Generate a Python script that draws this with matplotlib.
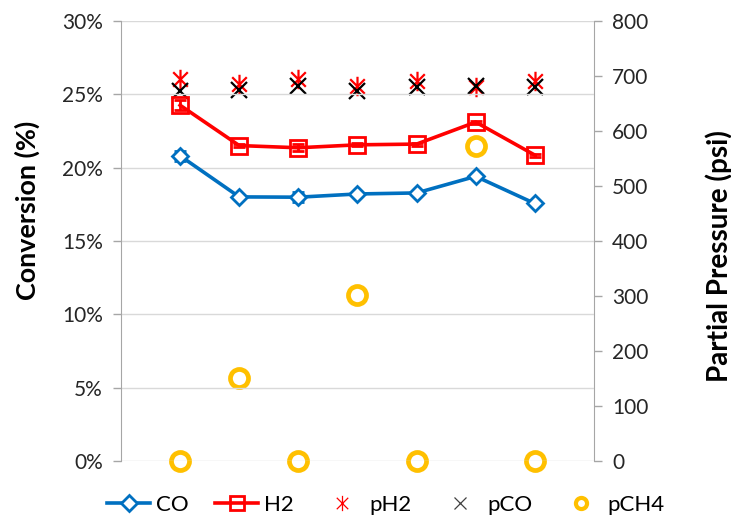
import numpy as np
import matplotlib
matplotlib.use("Agg")
import matplotlib.pyplot as plt
from matplotlib.path import Path
from matplotlib.lines import Line2D

plt.rcParams['font.family'] = ['Lato', 'DejaVu Sans']

runs = [1, 2, 3, 4, 5, 6, 7]
co_conv = [20.8, 18.0, 17.98, 18.2, 18.27, 19.4, 17.55]
co_err = [0.35, 0.1, 0.35, 0.1, 0.1, 0.1, 0.1]
h2_conv = [24.25, 21.5, 21.35, 21.55, 21.6, 23.1, 20.85]
h2_err = [0.35, 0.1, 0.25, 0.1, 0.1, 0.1, 0.1]
p_h2 = [695, 685, 694, 682, 691, 679, 690]
p_co = [673, 675, 682, 672, 679, 682, 679]
p_ch4 = [0, 150, 0, 302, 0, 573, 0]

blue = '#0070C0'
red = '#FF0000'
gold = '#FFC000'
gray = '#A6A6A6'

# excel style star: vertical bar plus an x
star = Path([(0, -1), (0, 1), (-0.75, -0.75), (0.75, 0.75), (-0.75, 0.75), (0.75, -0.75)],
            [Path.MOVETO, Path.LINETO, Path.MOVETO, Path.LINETO, Path.MOVETO, Path.LINETO])

fig = plt.figure(figsize=(7.31, 5.22), dpi=100)
ax = fig.add_axes([0.1655, 0.117, 0.647, 0.843])
ax2 = ax.twinx()

ax.set_zorder(ax2.get_zorder() + 1)
ax.patch.set_visible(False)

ax.errorbar(runs, co_conv, yerr=co_err, color=blue, lw=2.6, marker='D', ms=8,
            mfc='white', mec=blue, mew=2, capsize=4, elinewidth=2, capthick=2)
ax.errorbar(runs, h2_conv, yerr=h2_err, color=red, lw=2.6, marker='s', ms=11,
            mfc='none', mec=red, mew=2, capsize=4, elinewidth=2, capthick=2)
ax2.plot(runs, p_h2, ls='none', marker=star, ms=14, mec=red, mew=1.6)
ax2.plot(runs, p_co, ls='none', marker='x', ms=12, mec='black', mew=1.6)
ax2.plot(runs, p_ch4, ls='none', marker='o', ms=13, mfc='none', mec=gold, mew=3.4, clip_on=False)

ax.set_xlim(0, 8)
ax.set_ylim(0, 30)
ax.set_yticks(np.arange(0, 31, 5))
ax.set_yticklabels([f'{v}%' for v in range(0, 31, 5)])
ax.set_xticks([])
ax.yaxis.grid(True, color='#D9D9D9', lw=1)
ax.set_axisbelow(True)

ax2.set_ylim(0, 800)
ax2.set_yticks(np.arange(0, 801, 100))

for a in (ax, ax2):
    for s in ['top', 'bottom']:
        a.spines[s].set_visible(False)
    a.spines['left'].set_color(gray)
    a.spines['right'].set_color(gray)
    a.tick_params(axis='y', colors=gray, labelcolor='#262626', labelsize=15, length=6, width=1,
                  direction='out', pad=7)
ax.spines['right'].set_visible(False)
ax2.spines['left'].set_visible(False)

ax.set_ylabel('Conversion (%)', fontsize=16, fontweight='bold')
ax2.set_ylabel('Partial Pressure (psi)', fontsize=16, fontweight='bold')

# scale the axis titles to the length they have in the reference
fig.canvas.draw()
for lab, span in [(ax.yaxis.label, 180), (ax2.yaxis.label, 252)]:
    h = lab.get_window_extent().height
    lab.set_fontsize(lab.get_fontsize() * span / h)
ax.yaxis.set_label_coords((40 - 121) / 473, (461 - 210) / 440)
ax2.yaxis.set_label_coords((705 - 121) / 473, (461 - 256) / 440)

handles = [
    Line2D([], [], color=blue, lw=2.6, marker='D', ms=8, mfc='white', mec=blue, mew=2),
    Line2D([], [], color=red, lw=2.6, marker='s', ms=10, mfc='none', mec=red, mew=2),
    Line2D([], [], ls='none', marker=star, ms=11, mec=red, mew=0.9),
    Line2D([], [], ls='none', marker='x', ms=9, mec='#404040', mew=0.9),
    Line2D([], [], ls='none', marker='o', ms=8, mfc='none', mec=gold, mew=3),
]
fig.legend(handles, ['CO', 'H2', 'pH2', 'pCO', 'pCH4'], loc='lower center',
           bbox_to_anchor=(0.528, -0.025), ncol=5, frameon=False, fontsize=16,
           handlelength=1.95, columnspacing=1.2, handletextpad=0.25)

fig.savefig('out.png', dpi=100)
